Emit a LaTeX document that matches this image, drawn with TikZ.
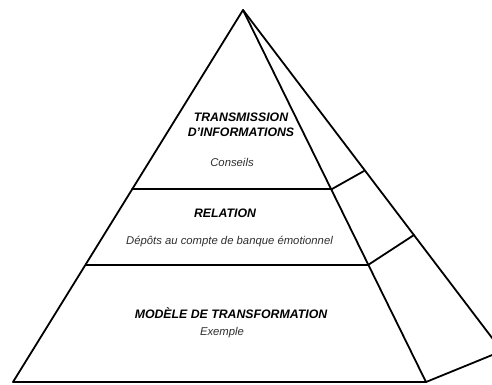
\documentclass[tikz,border=0pt]{standalone}
\usepackage{fontspec}
\setmainfont{Liberation Sans}
\begin{document}
\begin{tikzpicture}[x=1pt,y=-1pt,
  edge/.style={line width=1.8pt,line join=round,line cap=round},
  title/.style={font=\fontsize{12.3}{14.5}\selectfont\bfseries\itshape,align=center,inner sep=0pt},
  sub/.style={font=\fontsize{11.3}{13}\selectfont\itshape,text=black!82,inner sep=0pt}]
\useasboundingbox (0,0) rectangle (492,384);
\clip (0,0) rectangle (492,384);
\coordinate (apex) at (243,10);
\coordinate (bl) at (13,382);
\coordinate (br) at (426,382);
\coordinate (bk) at (502,351);
\coordinate (l1) at (132,189);
\coordinate (r1) at (332,189);
\coordinate (k1) at (364,171);
\coordinate (l2) at (86,265);
\coordinate (r2) at (368,265);
\coordinate (k2) at (414,235);
\draw[edge] (bl) -- (apex) -- (br) -- cycle;
\draw[edge] (apex) -- (bk) -- (br);
\draw[edge] (l1) -- (r1) -- (k1);
\draw[edge] (l2) -- (r2) -- (k2);
\node[title] (t1) at (241,125) {TRANSMISSION\\D’INFORMATIONS};
\node[sub] (s1) at (232,162) {Conseils};
\node[title] (t2) at (225,213) {RELATION};
\node[sub] (s2) at (229.5,242) {Dépôts au compte de banque émotionnel};
\node[title] (t3) at (231,313) {MODÈLE DE TRANSFORMATION};
\node[sub] (s3) at (222,333) {Exemple};
\end{tikzpicture}
\end{document}
